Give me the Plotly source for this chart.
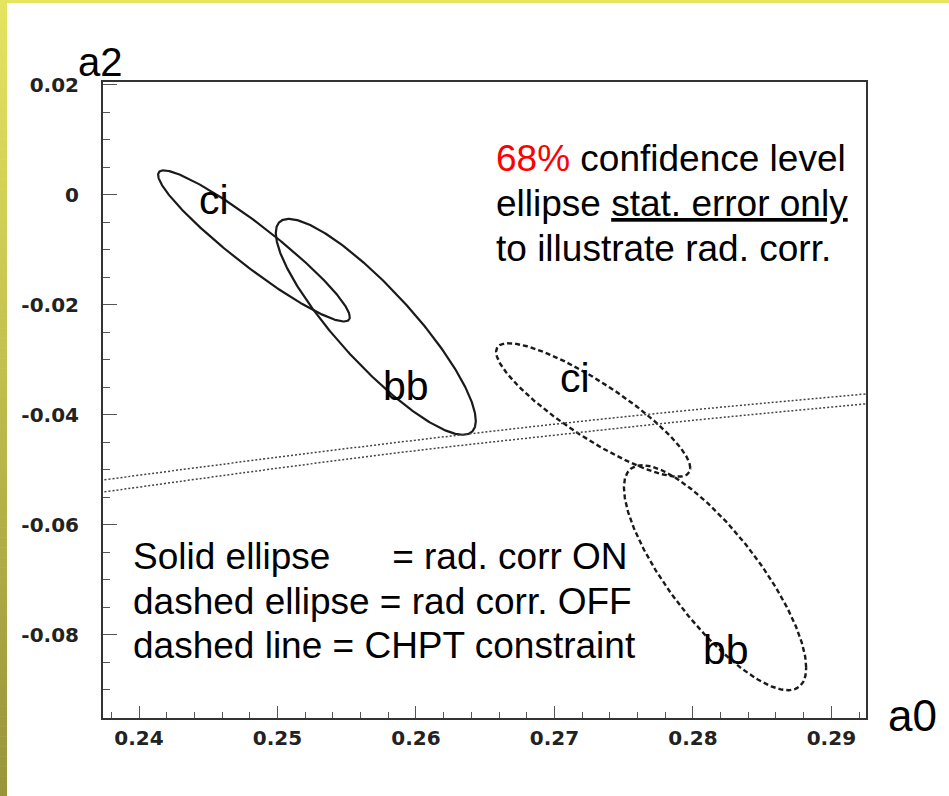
import numpy as np
import plotly.graph_objects as go

# ---- fit results: 68% CL ellipses in the (a0, a2) plane ----
ellipse_label = ["ci", "bb", "ci", "bb"]
ellipse_radcorr = [True, True, False, False]      # solid = rad. corr ON, dashed = OFF
center_a0 = [0.2483, 0.2571, 0.2728, 0.2816]
center_a2 = [-0.0093, -0.0240, -0.0391, -0.0696]
sigma_a0 = [0.00692, 0.00722, 0.00701, 0.00658]
sigma_a2 = [0.01373, 0.01962, 0.01213, 0.02045]
rho = [-0.94, -0.87, -0.87, -0.80]

# where the ci / bb names sit next to each ellipse
label_a0 = [0.2454, 0.2593, 0.2715, 0.2824]
label_a2 = [-0.0009, -0.0347, -0.0333, -0.0827]

# ---- CHPT constraint band (two dotted curves) ----
chpt_a0 = [0.2375, 0.25, 0.26, 0.27, 0.28, 0.2925]
chpt_upper = [-0.0518, -0.0477, -0.0446, -0.0417, -0.0391, -0.0362]
chpt_lower = [-0.0540, -0.0497, -0.0465, -0.0437, -0.0410, -0.0380]

# ---- axes ----
x_ticks = [0.24, 0.25, 0.26, 0.27, 0.28, 0.29]
x_ticktext = ["0.24", "0.25", "0.26", "0.27", "0.28", "0.29"]
y_ticks = [0.02, 0.0, -0.02, -0.04, -0.06, -0.08]
y_ticktext = ["0.02", "0", "-0.02", "-0.04", "-0.06", "-0.08"]
x_range = [0.2374, 0.2925]
y_range = [-0.0951, 0.0205]

W, H = 949, 796
ML, MR, MT, MB = 103, 83, 82, 78


def px_to_paper(px, py):
    """Convert page pixel position to paper coordinates."""
    return (px - ML) / (W - ML - MR), (H - MB - py) / (H - MT - MB)


fig = go.Figure()

t = np.linspace(0.0, 2.0 * np.pi, 361)
for cx, cy, sx, sy, r, on in zip(center_a0, center_a2, sigma_a0, sigma_a2,
                                 rho, ellipse_radcorr):
    ex = cx + sx * np.cos(t)
    ey = cy + sy * (r * np.cos(t) + np.sqrt(1.0 - r * r) * np.sin(t))
    fig.add_trace(go.Scatter(
        x=ex, y=ey, mode="lines", hoverinfo="skip", showlegend=False,
        line=dict(color="#1a1a1a", width=2.2 if on else 2.4,
                  dash="solid" if on else "5px,3px"),
    ))

for band in (chpt_upper, chpt_lower):
    fig.add_trace(go.Scatter(
        x=chpt_a0, y=band, mode="lines", line_shape="spline",
        hoverinfo="skip", showlegend=False,
        line=dict(color="#444444", width=1.5, dash="2px,2px"),
    ))

annotations = []
for name, lx, ly in zip(ellipse_label, label_a0, label_a2):
    annotations.append(dict(
        x=lx, y=ly, xref="x", yref="y", text=name, showarrow=False,
        font=dict(family="Liberation Sans", size=41, color="black"),
    ))

TEXT_FONT = dict(family="Liberation Sans", size=37, color="black")

top_lines = [
    '<span style="color:#ff0000">68%</span> confidence level',
    "ellipse <u>stat. error only</u>",
    "to illustrate rad. corr.",
]
top_y = [158, 204, 248]
for txt, py in zip(top_lines, top_y):
    ax, ay = px_to_paper(494, py)
    annotations.append(dict(x=ax, y=ay, xref="paper", yref="paper", text=txt,
                            showarrow=False, xanchor="left", yanchor="middle",
                            font=TEXT_FONT))

legend_lines = [
    "Solid ellipse" + "\u00a0" * 6 + "= rad. corr ON",
    "dashed ellipse = rad corr. OFF",
    "dashed line = CHPT constraint",
]
legend_y = [556, 601, 645]
for txt, py in zip(legend_lines, legend_y):
    ax, ay = px_to_paper(131, py)
    annotations.append(dict(x=ax, y=ay, xref="paper", yref="paper", text=txt,
                            showarrow=False, xanchor="left", yanchor="middle",
                            font=TEXT_FONT))

# axis titles placed at the ends of the axes
for txt, px, py, size in (("a2", 100, 62, 40), ("a0", 912, 715, 44)):
    ax, ay = px_to_paper(px, py)
    annotations.append(dict(x=ax, y=ay, xref="paper", yref="paper", text=txt,
                            showarrow=False, xanchor="center", yanchor="middle",
                            font=dict(family="Liberation Sans", size=size,
                                      color="black")))

# page frame: yellow top rule and a yellow-to-olive bar on the left
shapes = []
x0p, y0p = px_to_paper(0, 0)
x1p, y1p = px_to_paper(W, 3)
shapes.append(dict(type="rect", xref="paper", yref="paper", x0=x0p, x1=x1p,
                   y0=y1p, y1=y0p, fillcolor="rgb(229,229,96)", line_width=0,
                   layer="above"))
n_strips = 80
top_rgb = np.array([229, 229, 96])
bot_rgb = np.array([152, 147, 58])
for i in range(n_strips):
    f = (i + 0.5) / n_strips
    c = top_rgb + (bot_rgb - top_rgb) * f
    py0 = H * i / n_strips
    py1 = H * (i + 1) / n_strips + 0.5
    ax0, ay0 = px_to_paper(0, py0)
    ax1, ay1 = px_to_paper(7, py1)
    shapes.append(dict(type="rect", xref="paper", yref="paper",
                       x0=ax0, x1=ax1, y0=ay1, y1=ay0,
                       fillcolor="rgb(%d,%d,%d)" % tuple(c.round()),
                       line_width=0, layer="above"))

TICK_FONT = dict(family="DejaVu Sans", size=20, color="#222222", weight="bold")

fig.update_layout(
    width=W, height=H,
    margin=dict(l=ML, r=MR, t=MT, b=MB, pad=0),
    paper_bgcolor="white", plot_bgcolor="white",
    showlegend=False,
    annotations=annotations,
    shapes=shapes,
    xaxis=dict(
        range=x_range, tickmode="array", tickvals=x_ticks, ticktext=x_ticktext,
        ticks="inside", ticklen=12, tickwidth=1, tickcolor="#555555",
        minor=dict(tick0=0.24, dtick=0.002, ticks="inside", ticklen=6,
                   tickwidth=1, tickcolor="#555555"),
        showline=True, linecolor="#333333", linewidth=2, mirror=True,
        showgrid=False, zeroline=False, tickfont=TICK_FONT,
        ticklabelstandoff=1,
    ),
    yaxis=dict(
        range=y_range, tickmode="array", tickvals=y_ticks, ticktext=y_ticktext,
        ticks="inside", ticklen=14, tickwidth=1, tickcolor="#555555",
        minor=dict(tick0=0.0, dtick=0.005, ticks="inside", ticklen=7,
                   tickwidth=1, tickcolor="#555555"),
        showline=True, linecolor="#333333", linewidth=2, mirror=True,
        showgrid=False, zeroline=False, tickfont=TICK_FONT,
        ticklabelstandoff=18,
    ),
)

fig.write_html("out.html")
